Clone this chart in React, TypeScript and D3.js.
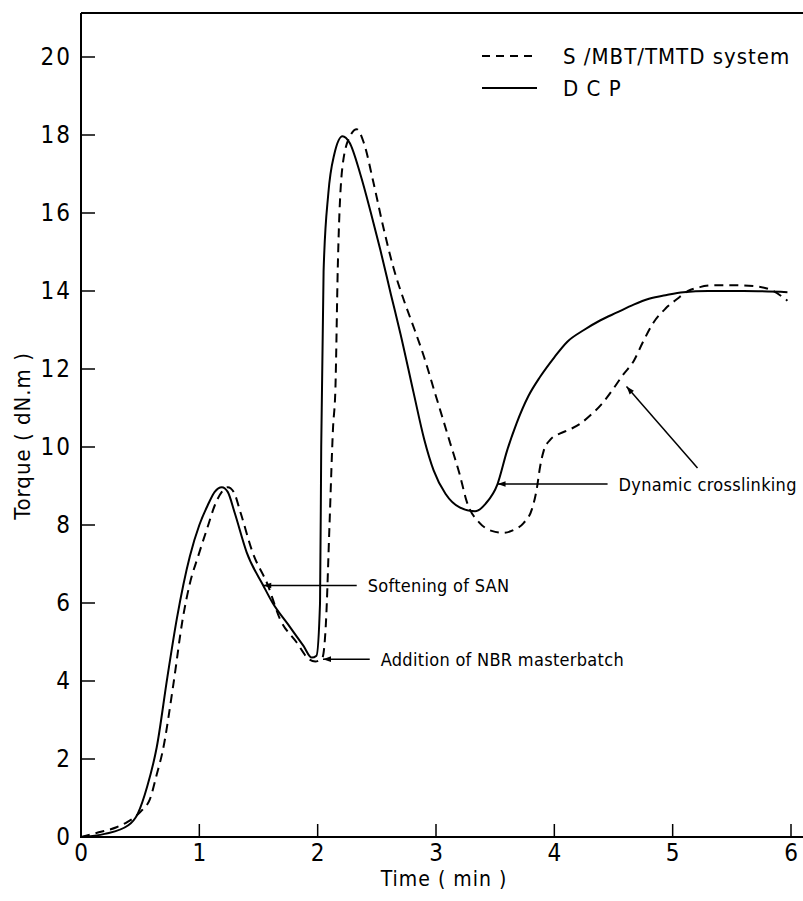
import * as d3 from "d3";
import React, {useEffect, useRef} from "react";

// DCP curve (time in min, torque in dN.m)
const dcpTime = [0, 0.2, 0.4, 0.48, 0.56, 0.64, 0.73, 0.81, 0.92, 1.0, 1.07, 1.13, 1.19, 1.24, 1.3, 1.4, 1.54, 1.62, 1.75, 1.88, 1.95, 1.99, 2.02, 2.03, 2.05, 2.09, 2.14, 2.21, 2.27, 2.36, 2.45, 2.53, 2.62, 2.7, 2.81, 2.9, 2.98, 3.08, 3.2, 3.33, 3.42, 3.52, 3.6, 3.68, 3.78, 3.88, 4.0, 4.11, 4.25, 4.39, 4.53, 4.67, 4.8, 4.95, 5.09, 5.3, 5.6, 5.97];
const dcpTorque = [0, 0.08, 0.3, 0.6, 1.3, 2.3, 4.1, 5.6, 7.2, 8.0, 8.5, 8.85, 8.97, 8.85, 8.3, 7.3, 6.45, 6.0, 5.45, 4.9, 4.6, 4.65, 6.0, 10, 14.5, 16.5, 17.5, 17.97, 17.8, 17.0, 16.0, 15.05, 13.9, 12.9, 11.4, 10.2, 9.4, 8.8, 8.45, 8.35, 8.55, 9.05, 9.9, 10.6, 11.3, 11.8, 12.3, 12.7, 13.0, 13.25, 13.45, 13.65, 13.8, 13.9, 13.97, 14.0, 14.0, 13.97];

// S/MBT/TMTD system curve
const sulfurTime = [0, 0.15, 0.3, 0.39, 0.47, 0.52, 0.58, 0.64, 0.69, 0.78, 0.86, 0.92, 0.99, 1.07, 1.13, 1.19, 1.24, 1.29, 1.35, 1.45, 1.58, 1.68, 1.82, 1.93, 1.98, 2.04, 2.07, 2.1, 2.13, 2.15, 2.17, 2.21, 2.27, 2.33, 2.39, 2.47, 2.55, 2.64, 2.73, 2.82, 2.9, 2.98, 3.05, 3.12, 3.2, 3.26, 3.37, 3.47, 3.57, 3.66, 3.74, 3.81, 3.85, 3.88, 3.91, 3.97, 4.05, 4.13, 4.22, 4.3, 4.4, 4.5, 4.58, 4.67, 4.75, 4.84, 4.94, 5.04, 5.13, 5.23, 5.37, 5.51, 5.7, 5.85, 5.97];
const sulfurTorque = [0, 0.12, 0.25, 0.38, 0.55, 0.7, 0.95, 1.6, 2.2, 3.9, 5.6, 6.5, 7.2, 7.95, 8.5, 8.85, 8.97, 8.85, 8.3, 7.3, 6.45, 5.6, 5.0, 4.55, 4.5, 4.6, 5.5, 8, 10.5, 11.5, 14.6, 17.2, 17.95, 18.15, 17.8, 16.8, 15.7, 14.6, 13.75, 13.0, 12.3, 11.5, 10.8, 10.1, 9.3, 8.6, 8.05, 7.85, 7.8, 7.88, 8.05, 8.4, 8.9, 9.5, 9.9, 10.2, 10.35, 10.45, 10.6, 10.8, 11.1, 11.5, 11.85, 12.2, 12.7, 13.2, 13.55, 13.8, 14.0, 14.1, 14.15, 14.15, 14.12, 14.0, 13.75];

const xTicks = [0, 1, 2, 3, 4, 5, 6];
const yTicks = [0, 2, 4, 6, 8, 10, 12, 14, 16, 18, 20];

const legendLabels = ["S /MBT/TMTD system", "D C P"];

// annotation arrows: tip and tail in data units
const annotationLabels = ["Softening of SAN", "Addition of NBR masterbatch", "Dynamic crosslinking"];
const annotationTips = [[1.54, 6.45], [2.045, 4.56], [3.52, 9.05]];
const annotationTails = [[2.33, 6.45], [2.44, 4.56], [4.45, 9.05]];
const diagonalTip = [4.61, 11.55];
const diagonalTail = [5.21, 9.46];

const FONT = "'DejaVu Sans Condensed', 'DejaVu Sans', sans-serif";

const App = () => {
    const ref = useRef<SVGSVGElement>(null);
    const width = 803, height = 901;

    useEffect(() => {
        const svg = d3.select(ref.current);
        svg.selectAll("*").remove();

        const x = d3.scaleLinear().domain([0, 6]).range([81, 791]);
        const y = d3.scaleLinear().domain([0, 20]).range([837, 57]);
        const top = 13;

        // arrow marker
        svg.append("defs").append("marker")
            .attr("id", "arrow")
            .attr("viewBox", "0 0 10 10")
            .attr("refX", 10).attr("refY", 5)
            .attr("markerWidth", 11).attr("markerHeight", 8)
            .attr("markerUnits", "userSpaceOnUse")
            .attr("orient", "auto-start-reverse")
            .append("path")
            .attr("d", "M0,1.5 L10,5 L0,8.5 Z")
            .attr("fill", "#000");

        // frame: left axis, top line, bottom axis
        svg.append("line").attr("x1", x(0)).attr("x2", x(0)).attr("y1", top).attr("y2", y(0))
            .attr("stroke", "#000").attr("stroke-width", 2);
        svg.append("line").attr("x1", x(0)).attr("x2", width).attr("y1", top).attr("y2", top)
            .attr("stroke", "#000").attr("stroke-width", 2);
        svg.append("line").attr("x1", x(0) - 1).attr("x2", width).attr("y1", y(0)).attr("y2", y(0))
            .attr("stroke", "#000").attr("stroke-width", 2);

        // y ticks (inward)
        const yt = svg.append("g");
        yt.selectAll("line").data(yTicks).join("line")
            .attr("x1", x(0)).attr("x2", x(0) + 14)
            .attr("y1", d => y(d)).attr("y2", d => y(d))
            .attr("stroke", "#000").attr("stroke-width", 1.5);
        yt.selectAll("text").data(yTicks).join("text")
            .attr("x", 72).attr("y", d => y(d))
            .attr("text-anchor", "end").attr("dominant-baseline", "central")
            .attr("font-family", FONT).attr("font-size", 24)
            .attr("letter-spacing", 2)
            .text(d => d);

        // x ticks (upward)
        const xt = svg.append("g");
        xt.selectAll("line").data(xTicks).join("line")
            .attr("x1", d => x(d)).attr("x2", d => x(d))
            .attr("y1", y(0)).attr("y2", y(0) - 13)
            .attr("stroke", "#000").attr("stroke-width", 1.5);
        xt.selectAll("text").data(xTicks).join("text")
            .attr("x", d => x(d)).attr("y", 861)
            .attr("text-anchor", "middle")
            .attr("font-family", FONT).attr("font-size", 24)
            .text(d => d);

        // axis titles
        svg.append("text")
            .attr("x", 444).attr("y", 886)
            .attr("text-anchor", "middle")
            .attr("font-family", FONT).attr("font-size", 21)
            .attr("letter-spacing", 1)
            .text("Time ( min )");
        svg.append("text")
            .attr("transform", `translate(30,436) rotate(-90)`)
            .attr("text-anchor", "middle")
            .attr("font-family", FONT).attr("font-size", 22)
            .attr("letter-spacing", 1)
            .text("Torque ( dN.m )");

        // curves
        const sulfur = sulfurTime.map((t, i) => [x(t), y(sulfurTorque[i])]);
        const dcp = dcpTime.map((t, i) => [x(t), y(dcpTorque[i])]);

        svg.append("path")
            .attr("d", d3.line().curve(d3.curveMonotoneX)(sulfur as any))
            .attr("fill", "none").attr("stroke", "#000").attr("stroke-width", 2)
            .attr("stroke-dasharray", "9,6");
        svg.append("path")
            .attr("d", d3.line().curve(d3.curveMonotoneX)(dcp as any))
            .attr("fill", "none").attr("stroke", "#000").attr("stroke-width", 2);

        // legend
        const lg = svg.append("g");
        [56, 88].forEach((ly, i) => {
            lg.append("line").attr("x1", 482).attr("x2", 537).attr("y1", ly).attr("y2", ly)
                .attr("stroke", "#000").attr("stroke-width", 2)
                .attr("stroke-dasharray", i === 0 ? "8,6" : null);
            lg.append("text").attr("x", 563).attr("y", ly)
                .attr("dominant-baseline", "central")
                .attr("font-family", FONT).attr("font-size", 22)
                .attr("letter-spacing", 1)
                .text(legendLabels[i]);
        });

        // annotations
        const an = svg.append("g");
        annotationLabels.forEach((label, i) => {
            const [tx, ty] = annotationTips[i];
            const [ex, ey] = annotationTails[i];
            an.append("line")
                .attr("x1", x(ex)).attr("y1", y(ey))
                .attr("x2", x(tx)).attr("y2", y(ty))
                .attr("stroke", "#000").attr("stroke-width", 1.5)
                .attr("marker-end", "url(#arrow)");
            an.append("text")
                .attr("x", x(ex) + 11).attr("y", y(ey))
                .attr("dominant-baseline", "central")
                .attr("font-family", FONT).attr("font-size", 18)
                .attr("letter-spacing", 0.3)
                .text(label);
        });
        an.append("line")
            .attr("x1", x(diagonalTail[0])).attr("y1", y(diagonalTail[1]))
            .attr("x2", x(diagonalTip[0])).attr("y2", y(diagonalTip[1]))
            .attr("stroke", "#000").attr("stroke-width", 1.5)
            .attr("marker-end", "url(#arrow)");
    }, []);

    return (
        <svg ref={ref} width={width} height={height}
             style={{position: "absolute", left: 0, top: 0, background: "#fff"}}/>
    );
};

export default App;
